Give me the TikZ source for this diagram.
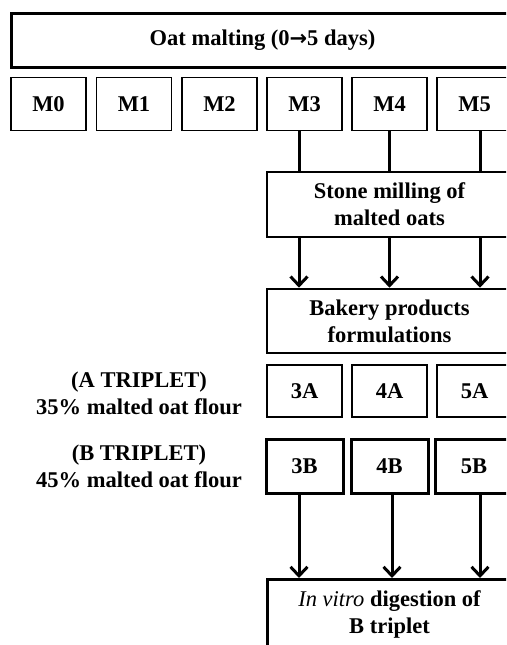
\documentclass[tikz,border=0pt]{standalone}
\usepackage{fontspec}
\setmainfont{Liberation Serif}
\newfontfamily\arrowfont{DejaVu Sans}
\usetikzlibrary{arrows.meta}
\begin{document}
\begin{tikzpicture}[x=1pt,y=-1pt,
    label text/.style={inner sep=0pt,align=center,font=\fontsize{22.5}{27}\selectfont\bfseries},
    box/.style={label text,draw},
    thinbox/.style={box,line width=1.5pt,minimum width=75pt,minimum height=53pt},
    thickbox/.style={box,line width=3pt},
    link/.style={line width=3pt},
    flow/.style={link,-{Straight Barb[length=9pt,width=17pt]}}]
    \useasboundingbox (0,0) rectangle (506,645);
    \clip (0,0) rectangle (506,645);
    %malting stage
    \node[thickbox,minimum width=503pt,minimum height=54pt] (malt) at (262.5,40) {Oat malting (0{\arrowfont\bfseries\fontsize{21}{21}\selectfont →}5 days)};
    \foreach \i/\x in {0/48.5,1/134,2/219.5,3/304.5,4/389.5,5/474.5}
        \node[thinbox] (M\i) at (\x,104) {M\i};
    %milling and formulation
    \node[thickbox,line width=2.6pt,minimum width=245pt,minimum height=65pt] (mill) at (389.5,204.5) {Stone milling of\\malted oats};
    \node[thickbox,line width=2.6pt,minimum width=245pt,minimum height=64pt] (bake) at (389.5,321) {Bakery products\\formulations};
    \foreach \n/\dx in {3/-5.5,4/0,5/5.5} {
        \draw[link] ([xshift=\dx pt]M\n.south) -- ([xshift=\dx pt]M\n.south |- mill.north);
        \draw[flow] ([xshift=\dx pt]M\n.south |- mill.south) -- ([xshift=\dx pt]M\n.south |- bake.north);
    }
    %triplets
    \node[label text] (tripA) at (139,393) {(A TRIPLET)\\35\% malted oat flour};
    \node[label text] (tripB) at (139,466) {(B TRIPLET)\\45\% malted oat flour};
    \foreach \n/\x in {3/304.5,4/389.5,5/474.5}
        \node[thinbox,minimum height=52pt] (A\n) at (\x,391) {\n A};
    \foreach \n/\x in {3/304.5,4/389.5,5/474}
        \node[thickbox,minimum width=77pt,minimum height=54pt] (B\n) at (\x,466) {\n B};
    %digestion
    \node[thickbox,minimum width=245pt,minimum height=70pt,anchor=north] (digest) at (389.5,578) {{\mdseries\itshape In vitro} digestion of\\B triplet};
    \foreach \n/\dx in {3/-5.5,4/2.5,5/6}
        \draw[flow] ([xshift=\dx pt]B\n.south) -- ([xshift=\dx pt]B\n.south |- digest.north);
\end{tikzpicture}
\end{document}
